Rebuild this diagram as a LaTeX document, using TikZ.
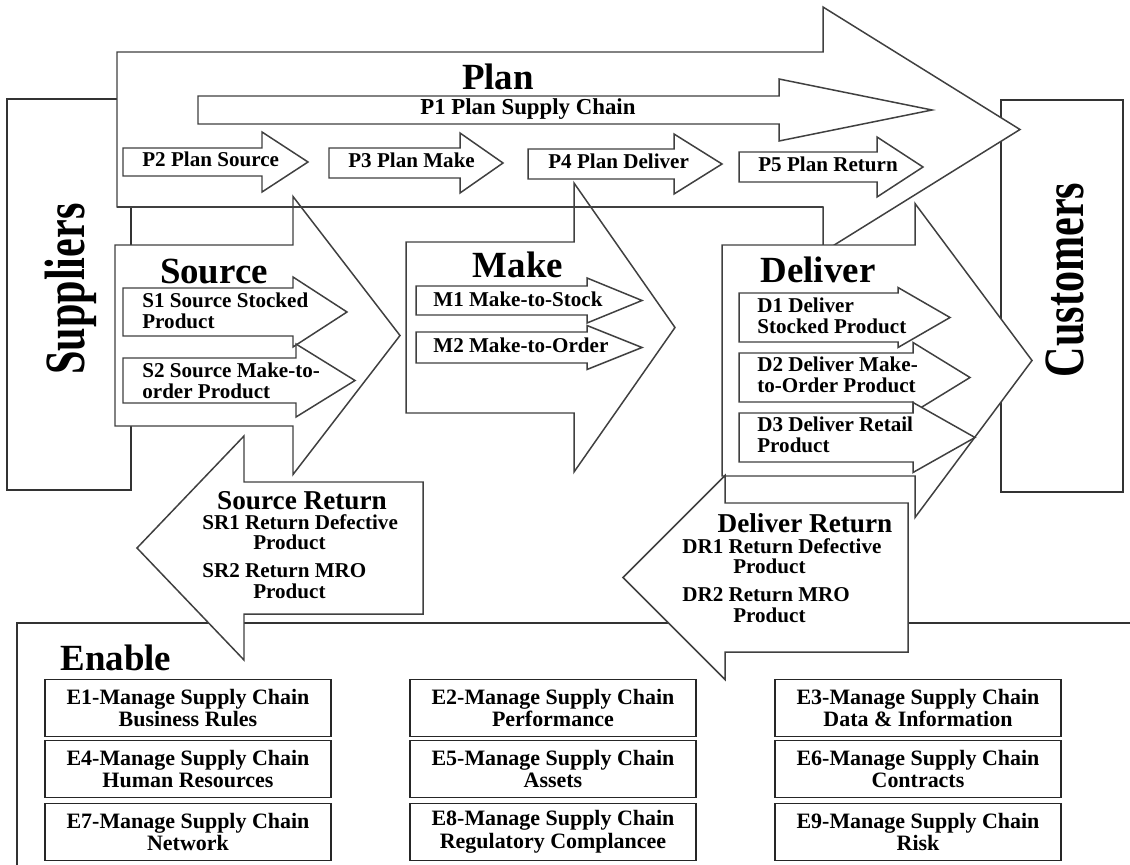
\documentclass[tikz,border=0pt]{standalone}
\usepackage{fontspec}
\setmainfont{Liberation Serif}
\usepackage{graphicx}
\usetikzlibrary{positioning}

% block arrow: start x, top y, bottom y, neck x, half head height, tip x
\newcommand{\blockarrow}[6]{%
  \draw[blk] (#1,#2) -- (#4,#2) -- (#4,{(#2+#3)/2-#5}) -- (#6,{(#2+#3)/2})
    -- (#4,{(#2+#3)/2+#5}) -- (#4,#3) -- (#1,#3) -- cycle;}

\begin{document}
\begin{tikzpicture}[x=0.02cm, y=-0.02cm,
    blk/.style={draw=black!75, line width=0.85pt, fill=white, line join=miter},
    side/.style={draw=black!80, line width=0.85pt, fill=white},
    title/.style={font=\fontsize{21}{24}\selectfont\bfseries, anchor=base, inner sep=0pt},
    rtitle/.style={font=\fontsize{15.5}{16}\selectfont\bfseries, anchor=base, inner sep=0pt},
    ptext/.style={font=\fontsize{12}{12}\selectfont\bfseries, anchor=base west, inner sep=0pt},
    sub/.style={font=\fontsize{12}{11.4}\selectfont\bfseries, align=left, anchor=base west, inner sep=0pt},
    party/.style={font=\fontsize{24}{24}\selectfont\bfseries, anchor=base, rotate=90, inner sep=0pt},
    ebox/.style={draw=black!85, line width=0.85pt, fill=white, minimum width=5.72cm, minimum height=1.14cm,
                 align=center, inner sep=1pt, font=\fontsize{12.5}{13}\selectfont\bfseries}
]
    \useasboundingbox (0,0) rectangle (1130,865);

    % === Suppliers / Customers ===
    \draw[side] (7,99) rectangle (131,490);
    \draw[side] (1001,100) rectangle (1123,492);
    \node[party] (suppliers) at (84,289) {\scalebox{1}[1.35]{Suppliers}};
    \node[party] (customers) at (1083,280) {\scalebox{1}[1.35]{Customers}};

    % Enable frame
    \draw[side, fill=none] (1130,623) -- (17,623) -- (17,865);

    % === Plan ===
    \blockarrow{117}{52}{207}{823}{122.5}{1020}
    \node[title] (plan) at (498,90) {Plan};
    \blockarrow{198}{96}{124}{779}{31}{932}
    \node[ptext, font=\fontsize{13}{13}\selectfont\bfseries] (p1) at (420,115) {P1 Plan Supply Chain};
    \blockarrow{123}{148}{176}{262}{30}{308}
    \node[ptext] (p2) at (142,167) {P2 Plan Source};
    \blockarrow{329}{148}{178}{460}{30}{503}
    \node[ptext] (p3) at (348,168) {P3 Plan Make};
    \blockarrow{528}{149}{179}{674}{30}{722}
    \node[ptext] (p4) at (548,169) {P4 Plan Deliver};
    \blockarrow{739}{152}{182}{877}{30}{923}
    \node[ptext] (p5) at (758,172) {P5 Plan Return};

    % === Source ===
    \blockarrow{115}{245}{426}{293}{139}{400}
    \node[title] (source) at (214,283) {Source};
    \blockarrow{123}{288}{336}{293}{35}{347}
    \node[sub] (s1) at (142,328) {S1 Source Stocked\\Product};
    \blockarrow{123}{358}{403}{296}{36.5}{355}
    \node[sub] (s2) at (142,398) {S2 Source Make-to-\\order Product};

    % === Make ===
    \blockarrow{406}{242}{413}{574}{144.5}{675}
    \node[title] (make) at (518,277) {Make};
    \blockarrow{416}{286}{315}{587}{22.5}{642}
    \node[sub] (m1) at (433,306) {M1 Make-to-Stock};
    \blockarrow{416}{332}{363}{587}{22}{642}
    \node[sub] (m2) at (433,352) {M2 Make-to-Order};

    % === Deliver ===
    \blockarrow{722}{245}{476}{915}{157}{1032}
    \node[title] (deliver) at (818,282) {Deliver};
    \blockarrow{739}{293}{342}{898}{30}{950}
    \node[sub] (d1) at (757,333) {D1 Deliver\\Stocked Product};
    \blockarrow{739}{353}{402}{913}{35}{970}
    \node[sub] (d2) at (757,392) {D2 Deliver Make-\\to-Order Product};
    \blockarrow{739}{413}{462}{913}{35}{975}
    \node[sub] (d3) at (757,452) {D3 Deliver Retail\\Product};

    % === Returns ===
    \blockarrow{423}{482}{614}{244}{112}{137}
    \node[rtitle] (srhead) at (302,509) {Source Return};
    \node[sub] (srtext) at (202,598) {SR1 Return Defective\\\hspace*{29pt}Product\\[4.6pt]SR2 Return MRO\\\hspace*{29pt}Product};
    \blockarrow{908}{503}{652}{725}{102}{623}
    \node[rtitle] (drhead) at (805,532) {Deliver Return};
    \node[sub] (drtext) at (682,622) {DR1 Return Defective\\\hspace*{29pt}Product\\[4.6pt]DR2 Return MRO\\\hspace*{29pt}Product};

    % plan bottom edge shows through the heads
    \draw[blk, fill=none] (117,207) -- (823,207);

    % === Enable ===
    \node[title] (enable) at (116,670) {Enable};
    \foreach \nm/\cx/\cy/\txt in {
        e1/188/708/{E1-Manage Supply Chain\\Business Rules},
        e2/553/708/{E2-Manage Supply Chain\\Performance},
        e3/918/708/{E3-Manage Supply Chain\\Data \& Information},
        e4/188/769/{E4-Manage Supply Chain\\Human Resources},
        e5/553/769/{E5-Manage Supply Chain\\Assets},
        e6/918/769/{E6-Manage Supply Chain\\Contracts},
        e7/188/832/{E7-Manage Supply Chain\\Network},
        e8/553/832/{E8-Manage Supply Chain\\Regulatory Complancee},
        e9/918/832/{E9-Manage Supply Chain\\Risk}}
        \node[ebox] (\nm) at (\cx,\cy) {\txt};
\end{tikzpicture}
\end{document}
